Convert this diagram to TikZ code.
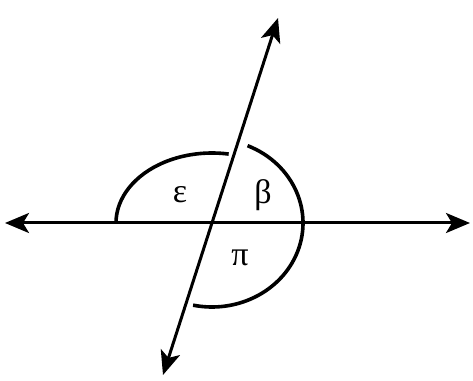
\documentclass[tikz,border=0pt]{standalone}
\usepackage{fontspec}
\setmainfont{Liberation Serif}
\usetikzlibrary{arrows.meta}

\begin{document}
\begin{tikzpicture}[
  x=0.5pt, y=0.5pt,
  line/.style={line width=1.5pt, {Stealth[length=12pt,width=10pt,inset=3pt]}-{Stealth[length=12pt,width=10pt,inset=3pt]}},
  bow/.style={line width=1.8pt},
  lab/.style={font=\fontsize{17}{19}\selectfont}
]
\useasboundingbox (0,0) rectangle (473,381);
\coordinate (O) at (212,158);
\coordinate (l) at (5,158);
\coordinate (r) at (470,158);
\coordinate (t) at (278,363);
\coordinate (b) at (163,6);
\draw[line] (l) -- (r);
\draw[line] (b) -- (t);
% angles
\draw[bow] (O) ++(-96,0) arc[start angle=180, end angle=80, x radius=96, y radius=70];
\draw[bow] (O) ++(67:91 and 84) arc[start angle=67, end angle=-102, x radius=91, y radius=84];
\node[lab] (eps) at (180,186) {ε};
\node[lab] (bet) at (263,186) {β};
\node[lab] (pi) at (240,123) {π};
\end{tikzpicture}
\end{document}
